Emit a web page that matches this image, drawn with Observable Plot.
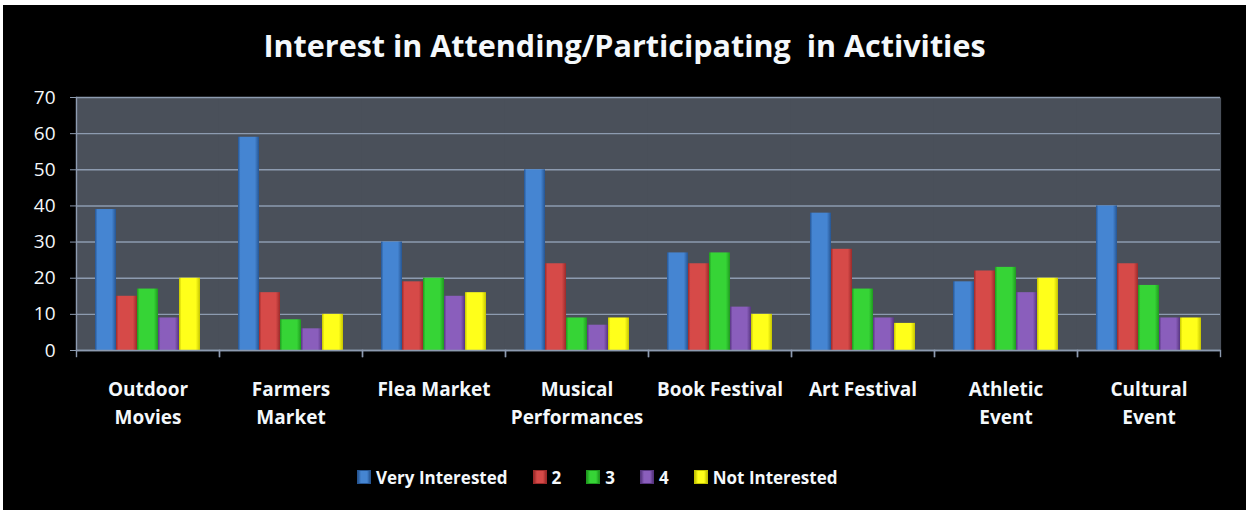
<!DOCTYPE html>
<html>
<head>
<meta charset="utf-8">
<script src="https://cdn.jsdelivr.net/npm/d3@7"></script>
<script src="https://cdn.jsdelivr.net/npm/@observablehq/plot@0.6"></script>
<style>
html, body { margin: 0; padding: 0; background: #fff; width: 1246px; height: 510px; overflow: hidden; }
#card { position: absolute; left: 3px; top: 5px; width: 1243px; height: 505px; background: #000;
  font-family: "Open Sans", "DejaVu Sans", sans-serif; color: #fff; }
#title { position: absolute; left: 0; top: 0px; width: 100%; height: 80px; display: flex; align-items: center;
  justify-content: center; font-size: 30.5px; font-weight: bold; white-space: pre; color: #f4f8fb; }
#chart { position: absolute; left: 0; top: 80px; }
#legend { position: absolute; left: 354px; top: 462px; height: 20px; display: flex; align-items: center;
  font-size: 17px; font-weight: bold; color: #f4f8fb; white-space: pre; }
.item { display: flex; align-items: center; margin-right: 25px; }
.sw { width: 14px; height: 14px; margin-right: 5px; box-sizing: border-box; }
</style>
</head>
<body>
<div id="card">
  <div id="title"></div>
  <div id="chart"></div>
  <div id="legend"></div>
</div>
<script>
// ---- data ----
const titleText = "Interest in Attending/Participating  in Activities";
const categories = ["Outdoor Movies", "Farmers Market", "Flea Market", "Musical Performances",
  "Book Festival", "Art Festival", "Athletic Event", "Cultural Event"];
const categoryLabels = ["Outdoor\nMovies", "Farmers\nMarket", "Flea Market", "Musical\nPerformances",
  "Book Festival", "Art Festival", "Athletic\nEvent", "Cultural\nEvent"];
const seriesNames = ["Very Interested", "2", "3", "4", "Not Interested"];
const veryInterested = [39, 59, 30, 50, 27, 38, 19, 40];
const rating2 = [15, 16, 19, 24, 24, 28, 22, 24];
const rating3 = [17, 8.5, 20, 9, 27, 17, 23, 18];
const rating4 = [9, 6, 15, 7, 12, 9, 16, 9];
const notInterested = [20, 10, 16, 9, 10, 7.5, 20, 9];
const yTicks = [0, 10, 20, 30, 40, 50, 60, 70];

// ---- styles ----
const seriesColors = [
  {edge: "#265592", mid: "#4585d2"},
  {edge: "#9c2a2a", mid: "#d64a48"},
  {edge: "#1f9a1f", mid: "#36d436"},
  {edge: "#573580", mid: "#8a5ebc"},
  {edge: "#c4c400", mid: "#ffff1a"}
];
const axisColor = "#8d9bb0";
const fontStack = "'Open Sans', 'DejaVu Sans', sans-serif";

const seriesValues = [veryInterested, rating2, rating3, rating4, notInterested];
const rows = categories.flatMap((c, i) => seriesNames.map((s, j) => ({category: c, series: s, value: seriesValues[j][i]})));

document.getElementById("title").textContent = titleText;

const svg = Plot.plot({
  width: 1243,
  height: 360,
  marginTop: 12,
  marginBottom: 95,
  marginLeft: 70,
  marginRight: 24,
  style: {background: "transparent", color: "#f4f8fb", fontFamily: fontStack},
  fx: {domain: categories, padding: 0, label: null},
  x: {domain: seriesNames, paddingInner: 0, paddingOuter: 0.8, axis: null},
  y: {domain: [0, 70], label: null},
  color: {type: "ordinal", domain: seriesNames, range: seriesNames.map((_, i) => `url(#grad${i})`)},
  marks: [
    Plot.frame({fill: "#4a505a", stroke: "none", insetLeft: -0.6, insetRight: -0.6}),
    Plot.gridY({ticks: yTicks, stroke: axisColor, strokeOpacity: 1, strokeWidth: 1.4}),
    Plot.barY(rows, {fx: "category", x: "series", y: "value", fill: "series"}),
    Plot.ruleY([0], {stroke: axisColor, strokeWidth: 1.6}),
    Plot.frame({anchor: "left", stroke: axisColor, strokeWidth: 1.4, insetTop: 253, insetBottom: -6}),
    Plot.frame({anchor: "right", stroke: axisColor, strokeWidth: 1.4, insetTop: 253, insetBottom: -6}),
    Plot.frame({anchor: "left", facetAnchor: "left", stroke: axisColor, strokeWidth: 1.4}),
    Plot.axisY({ticks: yTicks, tickSize: 6, tickPadding: 15, fontSize: 19, stroke: axisColor, fill: "#f4f8fb"}),
    Plot.axisFx({anchor: "bottom", tickSize: 0, tickPadding: 26, fontSize: 19, fontWeight: "bold",
      lineHeight: 1.47, fill: "#f4f8fb", label: null,
      tickFormat: d => categoryLabels[categories.indexOf(d)]})
  ]
});

const defs = d3.select(svg).insert("defs", ":first-child");
seriesColors.forEach((c, i) => {
  const g = defs.append("linearGradient").attr("id", `grad${i}`).attr("x1", 0).attr("x2", 1).attr("y1", 0).attr("y2", 0);
  g.append("stop").attr("offset", "0%").attr("stop-color", c.edge);
  g.append("stop").attr("offset", "12%").attr("stop-color", c.mid);
  g.append("stop").attr("offset", "80%").attr("stop-color", c.mid);
  g.append("stop").attr("offset", "100%").attr("stop-color", c.edge);
});
document.getElementById("chart").appendChild(svg);

const legend = d3.select("#legend");
seriesNames.forEach((s, i) => {
  const item = legend.append("div").attr("class", "item");
  item.append("div").attr("class", "sw")
    .style("background", `linear-gradient(to right, ${seriesColors[i].edge}, ${seriesColors[i].mid} 25%, ${seriesColors[i].mid} 75%, ${seriesColors[i].edge})`)
    .style("border", `1px solid ${seriesColors[i].edge}`);
  item.append("span").text(s);
});
</script>
</body>
</html>
